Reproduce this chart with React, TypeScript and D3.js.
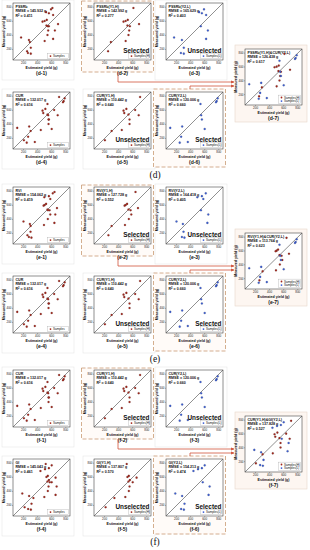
import * as d3 from 'd3';

// measured yields (g) of the two sample groups, shared by every index
const measuredH = [790, 620, 605, 595, 560, 540, 530, 470, 405, 320, 305, 175];
const measuredL = [770, 730, 715, 690, 530, 470, 370, 350, 335, 225, 150, 140];

// estimated yields (g) per index and group
const pssrbH = [610, 530, 500, 470, 690, 525, 560, 550, 540, 500, 290, 250];
const pssrbL = [590, 520, 560, 620, 545, 645, 165, 620, 276, 303, 262, 303];
const curH = [705, 510, 635, 470, 480, 540, 685, 555, 555, 445, 300, 205];
const curL = [785, 770, 760, 540, 550, 560, 280, 110, 600, 265, 360, 245];
const rviH = [640, 520, 500, 485, 675, 540, 570, 580, 545, 490, 300, 255];
const rviL = [615, 560, 495, 580, 547, 651, 199, 638, 290, 299, 276, 312];
const giH = [515, 545, 525, 655, 560, 540, 600, 555, 545, 495, 340, 215];
const giL = [600, 560, 505, 440, 572, 670, 182, 655, 279, 313, 265, 304];

const titlesD = ['PSSRb', 'PSSRb(Y1,H)', 'PSSRb(Y2,L)', 'CUR', 'CUR(Y1,H)', 'CUR(Y2,L)', 'PSSRb(Y1,H)&CUR(Y2,L)'];
const rmseD = ['145.932', '142.992', '165.629', '132.017', '110.442', '120.006', '126.438'];
const r2D = ['0.411', '0.277', '0.403', '0.616', '0.640', '0.660', '0.617'];

const titlesE = ['RVI', 'RVI(Y1,H)', 'RVI(Y2,L)', 'CUR', 'CUR(Y1,H)', 'CUR(Y2,L)', 'RVI(Y1,H)&CUR(Y2,L)'];
const rmseE = ['154.062', '127.728', '164.418', '132.017', '110.442', '120.006', '113.764'];
const r2E = ['0.419', '0.552', '0.405', '0.616', '0.640', '0.660', '0.623'];

const titlesF = ['CUR', 'CUR(Y1,H)', 'CUR(Y2,L)', 'GI', 'GI(Y1,H)', 'GI(Y2,L)', 'CUR(Y1,H)&GI(Y2,L)'];
const rmseF = ['132.017', '110.442', '120.006', '145.043', '137.807', '154.213', '137.828'];
const r2F = ['0.616', '0.640', '0.660', '0.461', '0.570', '0.474', '0.527'];

const ticks = [200, 400, 600, 800];
const domain: [number, number] = [50, 860];

const RED = '#a3261b';
const BLUE = '#3d5fd6';
const ARROW = '#d0533a';
const FONT = "'Liberation Sans', Arial, sans-serif";

const FW = 57;
const FH = 57;
const colX = [13, 94, 166];
const rowY = [3, 92];
const sectionTops = [0, 184, 367];

interface Series {
    est: number[];
    meas: number[];
    color: string;
    label: string;
}

interface PanelProps {
    x: number;
    y: number;
    w: number;
    h: number;
    title: string;
    rmse: string;
    r2: string;
    series: Series[];
    mark?: string;
    label: string;
    box: 'plain' | 'dashed' | 'fill';
    boxTop?: number;
    boxBottom?: number;
}

function Panel(p: PanelProps) {
    const sx = d3.scaleLinear().domain(domain).range([p.x, p.x + p.w]);
    const sy = d3.scaleLinear().domain(domain).range([p.y + p.h, p.y]);
    const bt = p.boxTop ?? 3;
    const bb = p.boxBottom ?? 20;
    const legendRows = p.series.length;
    const lw = legendRows > 1 ? 22 : 21;
    const lh = 3.6 * legendRows + 1.2;
    const lx = p.x + p.w - lw - 1.5;
    const ly = p.y + p.h - lh - 1.5;
    return (
        <g>
            {p.box === 'plain' && (
                <rect x={p.x - 11} y={p.y - bt} width={p.w + 15} height={p.h + bt + bb}
                    fill="none" stroke="#e6e6e6" strokeWidth={0.6} />
            )}
            {p.box === 'dashed' && (
                <rect x={p.x - 12.5} y={p.y - bt} width={p.w + 15} height={p.h + bt + bb}
                    fill="#fffbf8" stroke="#c99a74" strokeWidth={0.8} strokeDasharray="4,2" />
            )}
            {p.box === 'fill' && (
                <rect x={p.x - 10} y={p.y - bt} width={p.w + 15} height={p.h + bt + bb}
                    fill="#fdf6f1" stroke="#e8d6ca" strokeWidth={0.6} />
            )}
            <rect x={p.x} y={p.y} width={p.w} height={p.h} fill="#fff" stroke="#222" strokeWidth={0.5} />
            <line x1={sx(domain[0])} y1={sy(domain[0])} x2={sx(domain[1])} y2={sy(domain[1])}
                stroke="#444" strokeWidth={0.6} />
            {ticks.map((t) => (
                <g key={'t' + t}>
                    <line x1={sx(t)} x2={sx(t)} y1={p.y + p.h} y2={p.y + p.h + 1} stroke="#222" strokeWidth={0.3} />
                    <text x={sx(t)} y={p.y + p.h + 4.3} fontSize={3} textAnchor="middle" fill="#222">{t}</text>
                    <line x1={p.x - 1} x2={p.x} y1={sy(t)} y2={sy(t)} stroke="#222" strokeWidth={0.3} />
                    <text x={p.x - 1.5} y={sy(t) + 1} fontSize={3} textAnchor="end" fill="#222">{t}</text>
                </g>
            ))}
            <text x={p.x + p.w / 2} y={p.y + p.h + 8.6} fontSize={3.6} fontWeight="bold" textAnchor="middle" fill="#111">
                Estimated yield (g)
            </text>
            <text transform={`translate(${p.x - 8},${p.y + p.h / 2}) rotate(-90)`} fontSize={3.6} fontWeight="bold"
                textAnchor="middle" fill="#111">
                Measured yield (g)
            </text>
            <text x={p.x + 2.5} y={p.y + 4.8} fontSize={3.6} fontWeight="bold" fill="#111">{p.title}</text>
            <text x={p.x + 2.5} y={p.y + 9.3} fontSize={3.6} fontWeight="bold" fill="#111">RMSE = {p.rmse} g</text>
            <text x={p.x + 2.5} y={p.y + 13.8} fontSize={3.6} fontWeight="bold" fill="#111">
                R<tspan fontSize={2.6} dy={-1.2}>2</tspan><tspan dy={1.2}> = {p.r2}</tspan>
            </text>
            {p.series.map((s, si) =>
                s.est.map((e, i) => (
                    <circle key={`p${si}-${i}`} cx={sx(e)} cy={sy(s.meas[i])} r={1.05} fill={s.color}
                        stroke="#222" strokeWidth={0.15} />
                ))
            )}
            {p.mark && (
                <text x={p.x + p.w - 1.5} y={p.y + p.h - lh - 2.6} fontSize={6.4} fontWeight="bold"
                    textAnchor="end" fill="#111">{p.mark}</text>
            )}
            <rect x={lx} y={ly} width={lw} height={lh} fill="#fff" stroke="#9a9a9a" strokeWidth={0.3} />
            {p.series.map((s, si) => (
                <g key={'l' + si}>
                    <circle cx={lx + 3} cy={ly + 2.4 + si * 3.6} r={0.9} fill={s.color} />
                    <text x={lx + 5.5} y={ly + 3.5 + si * 3.6} fontSize={3} fill="#111">{s.label}</text>
                </g>
            ))}
            <text x={p.x + p.w / 2} y={p.y + p.h + 15} fontSize={5} fontWeight="bold" textAnchor="middle" fill="#111">
                {p.label}
            </text>
        </g>
    );
}

interface SectionDef {
    key: string;
    titles: string[];
    rmse: string[];
    r2: string[];
    topH: number[];
    topL: number[];
    botH: number[];
    botL: number[];
}

const sections: SectionDef[] = [
    { key: 'd', titles: titlesD, rmse: rmseD, r2: r2D, topH: pssrbH, topL: pssrbL, botH: curH, botL: curL },
    { key: 'e', titles: titlesE, rmse: rmseE, r2: r2E, topH: rviH, topL: rviL, botH: curH, botL: curL },
    { key: 'f', titles: titlesF, rmse: rmseF, r2: r2F, topH: curH, topL: curL, botH: giH, botL: giL },
];

function Section({ s, top }: { s: SectionDef; top: number }) {
    const all = (h: number[], l: number[]): Series[] => [
        { est: [...h, ...l], meas: [...measuredH, ...measuredL], color: RED, label: 'Samples' },
    ];
    const hs = (h: number[]): Series[] => [{ est: h, meas: measuredH, color: RED, label: 'Samples(H)' }];
    const ls = (l: number[]): Series[] => [{ est: l, meas: measuredL, color: BLUE, label: 'Samples(L)' }];
    const y1 = top + rowY[0];
    const y2 = top + rowY[1];
    const k = s.key;
    return (
        <g>
            <defs>
                <marker id={'arr' + k} viewBox="0 0 6 6" refX={5.5} refY={3} markerWidth={4} markerHeight={4} orient="auto">
                    <path d="M0,0 L6,3 L0,6 Z" fill={ARROW} />
                </marker>
            </defs>
            <Panel x={colX[0]} y={y1} w={FW} h={FH} title={s.titles[0]} rmse={s.rmse[0]} r2={s.r2[0]}
                series={all(s.topH, s.topL)} label={`(${k}-1)`} box="plain" />
            <Panel x={colX[1]} y={y1} w={FW} h={FH} title={s.titles[1]} rmse={s.rmse[1]} r2={s.r2[1]}
                series={hs(s.topH)} mark="Selected" label={`(${k}-2)`} box="dashed" boxTop={2} boxBottom={12} />
            <Panel x={colX[2]} y={y1} w={FW} h={FH} title={s.titles[2]} rmse={s.rmse[2]} r2={s.r2[2]}
                series={ls(s.topL)} mark="Unselected" label={`(${k}-3)`} box="plain" />
            <Panel x={colX[0]} y={y2} w={FW} h={FH} title={s.titles[3]} rmse={s.rmse[3]} r2={s.r2[3]}
                series={all(s.botH, s.botL)} label={`(${k}-4)`} box="plain" />
            <Panel x={colX[1]} y={y2} w={FW} h={FH} title={s.titles[4]} rmse={s.rmse[4]} r2={s.r2[4]}
                series={hs(s.botH)} mark="Unselected" label={`(${k}-5)`} box="plain" />
            <Panel x={colX[2]} y={y2} w={FW} h={FH} title={s.titles[5]} rmse={s.rmse[5]} r2={s.r2[5]}
                series={ls(s.botL)} mark="Selected" label={`(${k}-6)`} box="dashed" boxTop={3} boxBottom={18} />
            <Panel x={245} y={top + 49} w={57} h={56} title={s.titles[6]} rmse={s.rmse[6]} r2={s.r2[6]}
                series={[...hs(s.topH), ...ls(s.botL)]} label={`(${k}-7)`} box="fill"
                boxTop={4} boxBottom={17} />
            <path d={`M118,${top + 72} V${top + 82} H234`} fill="none" stroke={ARROW} strokeWidth={0.8}
                markerEnd={`url(#arr${k})`} />
            <path d={`M190,${top + 89} V${top + 86} H234`} fill="none" stroke={ARROW} strokeWidth={0.8}
                markerEnd={`url(#arr${k})`} />
            <text x={155} y={top + 178} fontSize={9.5} fontFamily="'Liberation Serif', 'Times New Roman', serif"
                textAnchor="middle" fill="#111">({k})</text>
        </g>
    );
}

export default function App() {
    return (
        <svg width={310} height={550} style={{ position: 'absolute', left: 0, top: 0, background: '#fff' }}
            fontFamily={FONT}>
            <rect width={310} height={550} fill="#fff" />
            {sections.map((s, i) => (
                <Section key={s.key} s={s} top={sectionTops[i]} />
            ))}
        </svg>
    );
}
